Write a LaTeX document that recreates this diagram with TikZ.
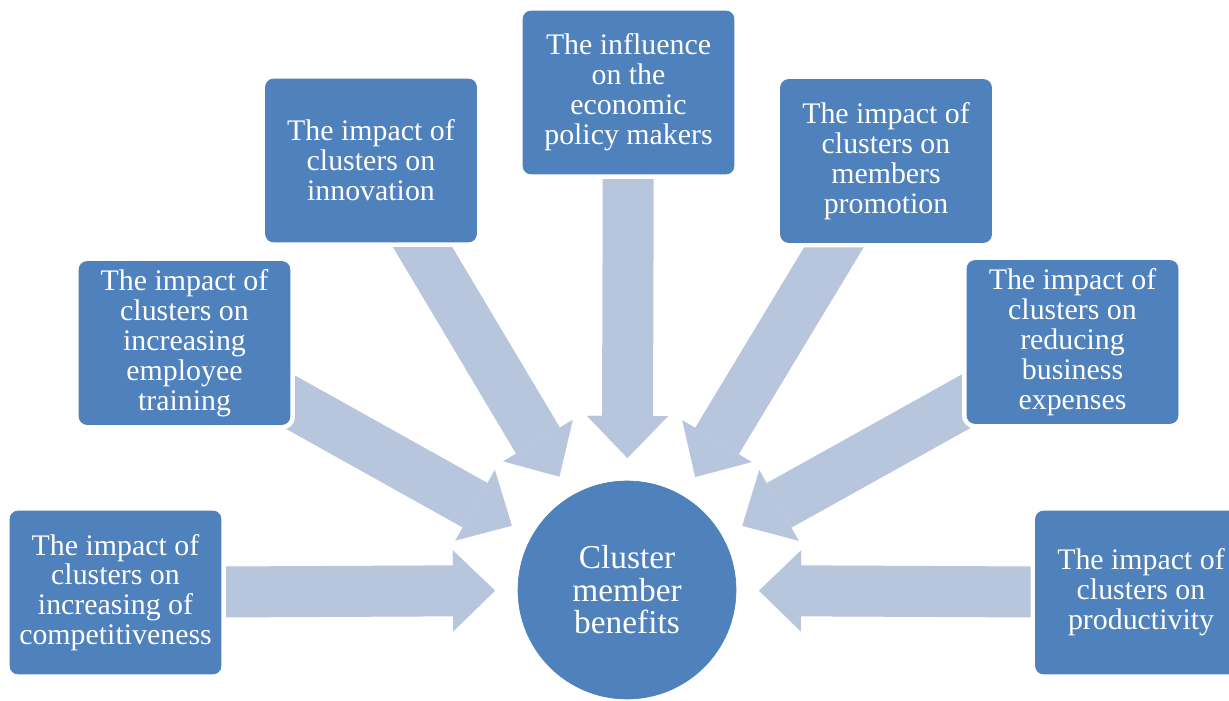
\documentclass[tikz,border=0pt]{standalone}
\usepackage{fontspec}
\setmainfont{Liberation Serif}
\usetikzlibrary{arrows.meta,backgrounds}
\definecolor{boxblue}{RGB}{79,129,189}
\definecolor{arrowblue}{RGB}{183,197,221}
\begin{document}
\begin{tikzpicture}[x=0.02cm,y=0.02cm,
  box/.style={rectangle, rounded corners=0.16cm, fill=boxblue, draw=boxblue, line width=0.4pt,
    preaction={draw=white, line width=0.2cm},
    minimum width=4.22cm, minimum height=3.26cm, inner sep=0pt, align=center,
    text=white, font=\fontsize{17}{17}\selectfont},
  hub/.style={circle, fill=boxblue, draw=boxblue, minimum size=4.36cm, inner sep=0pt, outer sep=0pt,
    align=center, text=white, font=\fontsize{19}{18.5}\selectfont},
  bigarrow/.style={draw=arrowblue, line width=1.02cm, shorten >=0.46cm,
    -{Triangle[length=0.84cm,width=1.62cm,line width=0.01pt]}}]
\useasboundingbox (0,0) rectangle (1229,700);
\clip (0,0) rectangle (1229,700);
\node[box] (b1) at (115.5,107.5) {The impact of\\clusters on\\increasing of\\competitiveness};
\node[box] (b2) at (184.5,357) {The impact of\\clusters on\\increasing\\employee\\training};
\node[box] (b3) at (371,539.5) {The impact of\\clusters on\\innovation};
\node[box] (b4) at (628.5,607.5) {The influence\\on the\\economic\\policy makers};
\node[box] (b5) at (886,539) {The impact of\\clusters on\\members\\promotion};
\node[box] (b6) at (1072.5,358) {The impact of\\clusters on\\reducing\\business\\expenses};
\node[box] (b7) at (1141,107.5) {The impact of\\clusters on\\productivity};
\node[hub] (c) at (627,110) {Cluster\\member\\benefits};
\begin{scope}[on background layer]
  \foreach \b in {b1,b2,b3,b4,b5,b6,b7}
    \draw[bigarrow] (\b.center) -- (c);
\end{scope}
\end{tikzpicture}
\end{document}
